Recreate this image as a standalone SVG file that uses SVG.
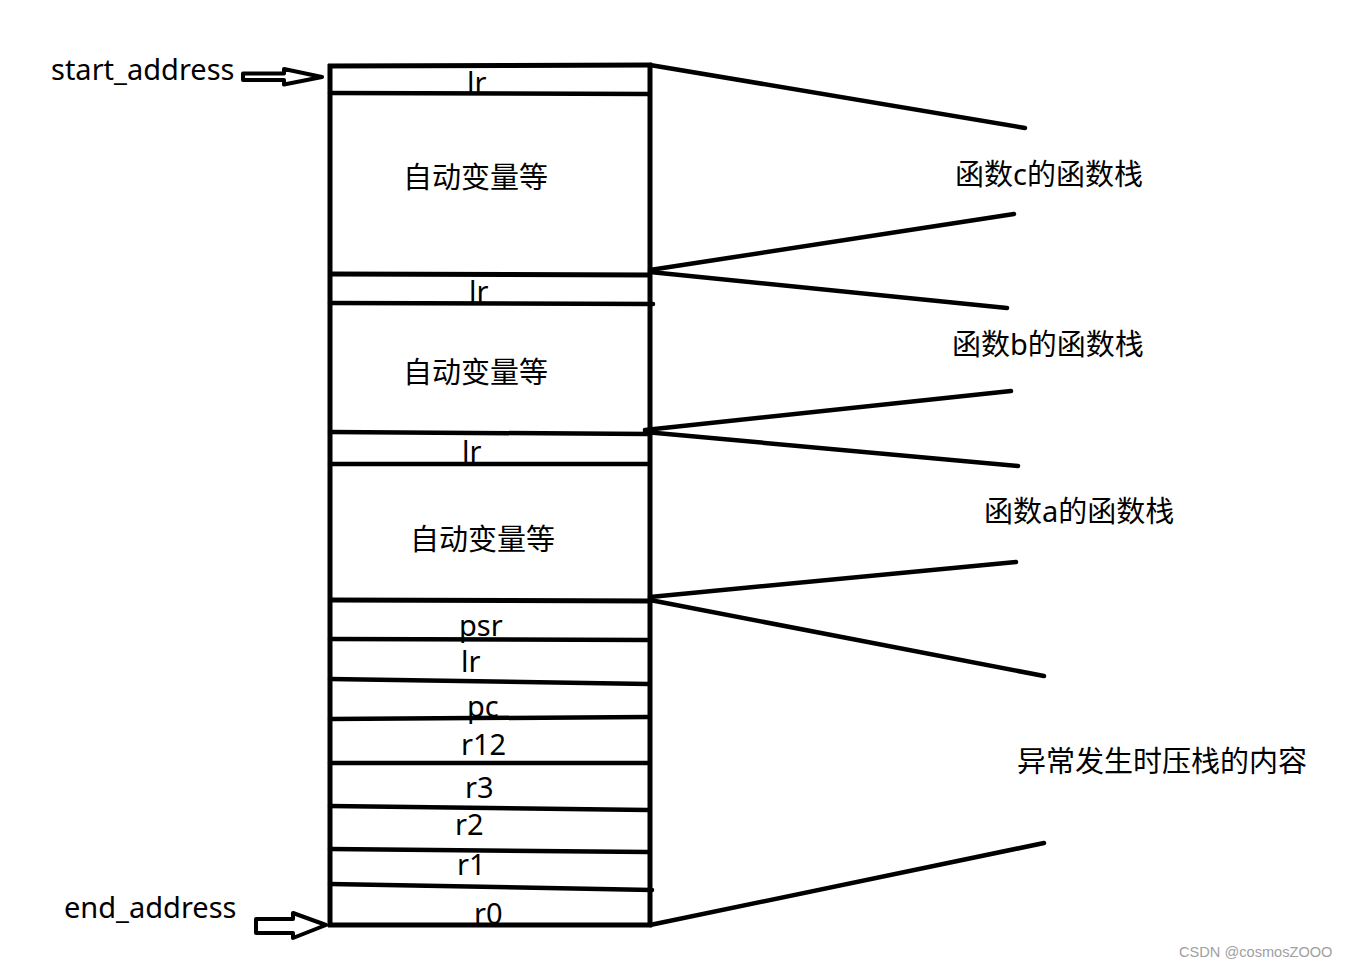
<svg xmlns="http://www.w3.org/2000/svg" width="1347" height="968" viewBox="0 0 1347 968">
<style>
.t{font-family:"Noto Sans","Noto Sans CJK SC",sans-serif;font-size:29px;fill:#000}
.c{font-family:"Noto Sans","Noto Sans CJK SC",sans-serif;font-size:29px;fill:#000}
.ln{stroke:#000;stroke-width:4.5;stroke-linecap:round;fill:none}
.edge{stroke:#000;stroke-width:5;fill:none}
.arr{fill:#fff;stroke:#000;stroke-width:4;stroke-linejoin:round}
.wm{font-family:"Liberation Sans",Arial,sans-serif;font-size:14.6px;fill:#a0a0a0}
</style>
<rect width="1347" height="968" fill="#fff"/>
<g id="stack">
<line class="edge" x1="330" y1="64" x2="330" y2="927"/>
<line class="edge" x1="650" y1="63" x2="650" y2="927"/>
<line class="edge" x1="328" y1="66" x2="652" y2="65"/>
<line class="ln" x1="330" y1="93" x2="648" y2="94"/>
<line class="edge" x1="330" y1="274" x2="650" y2="275"/>
<line class="ln" x1="330" y1="303" x2="653" y2="304"/>
<line class="ln" x1="330" y1="432" x2="648" y2="434"/>
<line class="ln" x1="330" y1="464" x2="648" y2="464"/>
<line class="edge" x1="330" y1="600" x2="650" y2="601"/>
<line class="ln" x1="330" y1="639" x2="648" y2="640"/>
<line class="ln" x1="330" y1="679" x2="648" y2="684"/>
<line class="ln" x1="330" y1="719" x2="648" y2="717"/>
<line class="ln" x1="330" y1="763" x2="648" y2="763"/>
<line class="ln" x1="330" y1="806" x2="648" y2="810"/>
<line class="ln" x1="330" y1="849" x2="648" y2="852"/>
<line class="ln" x1="330" y1="884" x2="652" y2="890"/>
<line class="edge" x1="328" y1="925" x2="652" y2="925"/>
</g>
<g id="labels-stack">
<text class="t" x="467" y="93">lr</text>
<text class="c" x="403" y="188">自动变量等</text>
<text class="t" x="469" y="302">lr</text>
<text class="c" x="403" y="383">自动变量等</text>
<text class="t" x="462" y="462">lr</text>
<text class="c" x="410" y="550">自动变量等</text>
<text class="t" x="459" y="636">psr</text>
<text class="t" x="461" y="672">lr</text>
<text class="t" x="467" y="717">pc</text>
<text class="t" x="461" y="755">r12</text>
<text class="t" x="465" y="798">r3</text>
<text class="t" x="455" y="835">r2</text>
<text class="t" x="457" y="875">r1</text>
<text class="t" x="474" y="924">r0</text>
</g>
<g id="start_address">
<text class="t" x="51" y="80">start_address</text>
<polygon class="arr" points="243,73.5 284,73.5 284,69 322,77 284,84.5 284,80 243,80"/>
</g>
<g id="end_address">
<text class="t" x="64" y="918">end_address</text>
<polygon class="arr" points="256,919 293,919 293,913 326,925 293,938 293,933 256,933"/>
</g>
<g id="connectors">
<line class="ln" x1="650" y1="65" x2="1025" y2="128"/>
<line class="ln" x1="650" y1="270" x2="1014" y2="214"/>
<line class="ln" x1="650" y1="272" x2="1007" y2="308"/>
<line class="ln" x1="645" y1="430" x2="1011" y2="391"/>
<line class="ln" x1="645" y1="432" x2="1018" y2="466"/>
<line class="ln" x1="650" y1="597" x2="1016" y2="562"/>
<line class="ln" x1="650" y1="600" x2="1044" y2="676"/>
<line class="ln" x1="650" y1="925" x2="1044" y2="843"/>
</g>
<g id="func-c"><text class="c" x="955" y="185">函数c的函数栈</text></g>
<g id="func-b"><text class="c" x="952" y="355">函数b的函数栈</text></g>
<g id="func-a"><text class="c" x="984" y="522">函数a的函数栈</text></g>
<g id="exception"><text class="c" x="1017" y="772">异常发生时压栈的内容</text></g>
<text class="wm" x="1179" y="957">CSDN @cosmosZOOO</text>
</svg>
